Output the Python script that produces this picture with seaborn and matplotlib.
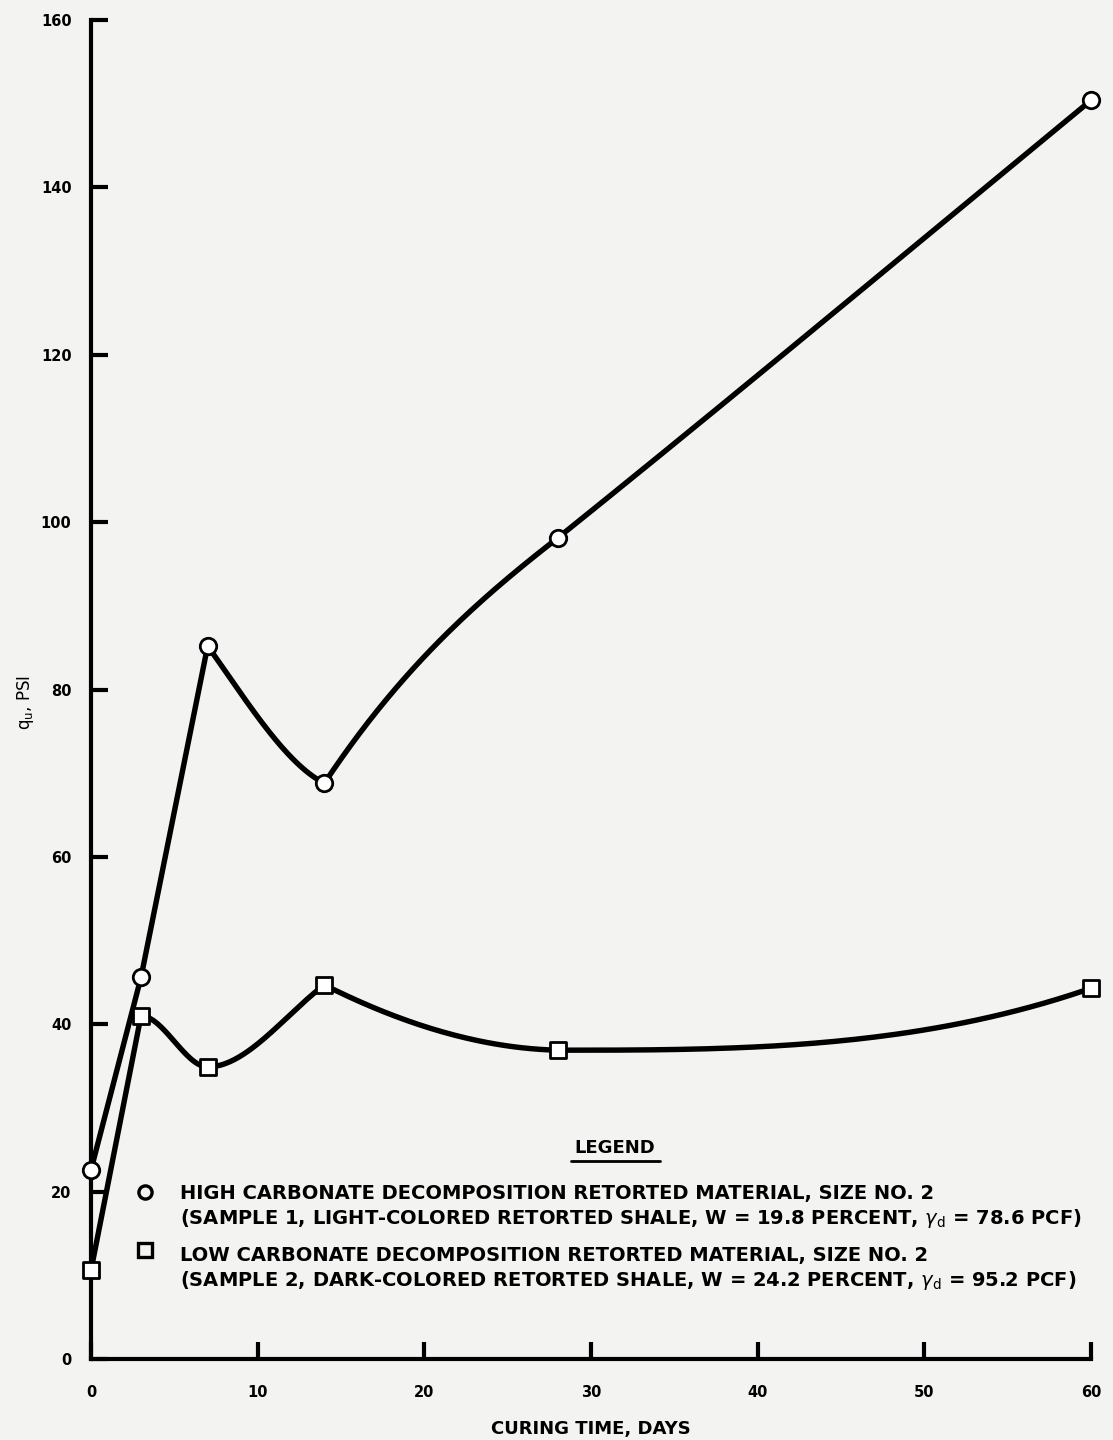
import numpy as np
import pandas as pd
import seaborn as sns
import matplotlib.pyplot as plt
from matplotlib.lines import Line2D

# Unconfined compressive strength vs curing time
days = [0, 3, 7, 14, 28, 60]
high_carbonate_qu = [22.6, 45.6, 85.2, 68.8, 98.1, 150.4]
low_carbonate_qu = [10.6, 41.0, 34.9, 44.7, 36.9, 44.3]

# Hand-drawn curve shape: per segment (start slope, end slope), None = straight
high_carbonate_tangents = [None, None, (-2.8, -1.0), (3.0, 1.55), (1.6, 1.64)]
low_carbonate_tangents = [None, (0.0, 0.0), (0.0, 1.5), (-1.0, -0.05), (0.0, 0.69)]

x_ticks = [0, 10, 20, 30, 40, 50, 60]
y_ticks = [0, 20, 40, 60, 80, 100, 120, 140, 160]

legend_title = "LEGEND"
legend_lines = [
    "HIGH CARBONATE DECOMPOSITION RETORTED MATERIAL, SIZE NO. 2",
    r"(SAMPLE 1, LIGHT-COLORED RETORTED SHALE, W = 19.8 PERCENT, $\gamma_{\rm d}$ = 78.6 PCF)",
    "LOW CARBONATE DECOMPOSITION RETORTED MATERIAL, SIZE NO. 2",
    r"(SAMPLE 2, DARK-COLORED RETORTED SHALE, W = 24.2 PERCENT, $\gamma_{\rm d}$ = 95.2 PCF)",
]


def hermite_curve(x, y, tangents, n=80):
    """Piecewise cubic Hermite curve through (x, y) with given end slopes."""
    x = np.asarray(x, float)
    y = np.asarray(y, float)
    xs, ys = [], []
    for i in range(len(x) - 1):
        t = np.linspace(0, 1, n)
        h = x[i + 1] - x[i]
        tan = tangents[i]
        if tan is None:
            seg = y[i] + (y[i + 1] - y[i]) * t
        else:
            d0, d1 = tan
            h00 = 2 * t**3 - 3 * t**2 + 1
            h10 = t**3 - 2 * t**2 + t
            h01 = -2 * t**3 + 3 * t**2
            h11 = t**3 - t**2
            seg = h00 * y[i] + h10 * h * d0 + h01 * y[i + 1] + h11 * h * d1
        xs.append(x[i] + h * t)
        ys.append(seg)
    return np.concatenate(xs), np.concatenate(ys)


sns.set_theme(style="white")
plt.rcParams["font.family"] = ["DejaVu Sans"]
for key in ["text.color", "axes.labelcolor", "xtick.color", "ytick.color"]:
    plt.rcParams[key] = "black"
paper = "#f3f3f2"

fig = plt.figure(figsize=(11.13, 14.4), dpi=100, facecolor=paper)
ax = fig.add_axes([91 / 1113, 81 / 1440, 1000 / 1113, 1339 / 1440])
ax.set_facecolor(paper)

for qu, tans, mk in [(high_carbonate_qu, high_carbonate_tangents, "o"),
                     (low_carbonate_qu, low_carbonate_tangents, "s")]:
    cx, cy = hermite_curve(days, qu, tans)
    sns.lineplot(x=cx, y=cy, sort=False, estimator=None, color="black",
                 linewidth=3.9, ax=ax, zorder=3)
    sns.scatterplot(x=days, y=qu, marker=mk, s=140, facecolor="white",
                    edgecolor="black", linewidth=2.0, ax=ax, zorder=4,
                    clip_on=False)

ax.set_xlim(0, 60)
ax.set_ylim(0, 160)
ax.set_xticks(x_ticks)
ax.set_yticks(y_ticks)
ax.set_xticklabels([str(v) for v in x_ticks], fontsize=10.5, fontweight="bold")
ax.set_yticklabels([str(v) for v in y_ticks], fontsize=10.5, fontweight="bold")
ax.tick_params(axis="both", which="major", direction="in", length=12.5,
               width=3, color="black", bottom=True, left=True)
ax.tick_params(axis="y", pad=14)
ax.tick_params(axis="x", pad=19)

for side in ["top", "right"]:
    ax.spines[side].set_visible(False)
for side in ["left", "bottom"]:
    ax.spines[side].set_linewidth(3)
    ax.spines[side].set_color("black")

ax.set_xlabel("CURING TIME, DAYS", fontsize=13, fontweight="bold", labelpad=14)
ax.set_ylabel(r"q$_{\rm u}$, PSI", fontsize=12)
ax.yaxis.set_label_coords(-0.055, 0.49)

# Legend block
W, H = 1113, 1440
fig.text(615 / W, 1 - 1148 / H, legend_title, ha="center", va="center",
         fontsize=13, fontweight="bold")
fig.add_artist(Line2D([571 / W, 660 / W], [1 - 1161 / H] * 2,
                      transform=fig.transFigure, color="black", lw=2))

fig.add_artist(Line2D([145 / W], [1 - 1192 / H], transform=fig.transFigure,
                      marker="o", markersize=9.5, markerfacecolor="none",
                      markeredgecolor="black", markeredgewidth=2.4))
fig.add_artist(Line2D([145 / W], [1 - 1250 / H], transform=fig.transFigure,
                      marker="s", markersize=9.5, markerfacecolor="none",
                      markeredgecolor="black", markeredgewidth=2.4))

for txt, ypix in zip(legend_lines, [1193, 1218, 1255, 1280]):
    fig.text(180 / W, 1 - ypix / H, txt, ha="left", va="center",
             fontsize=14, fontweight="bold")

fig.savefig("out.png", dpi=100, facecolor=paper)
